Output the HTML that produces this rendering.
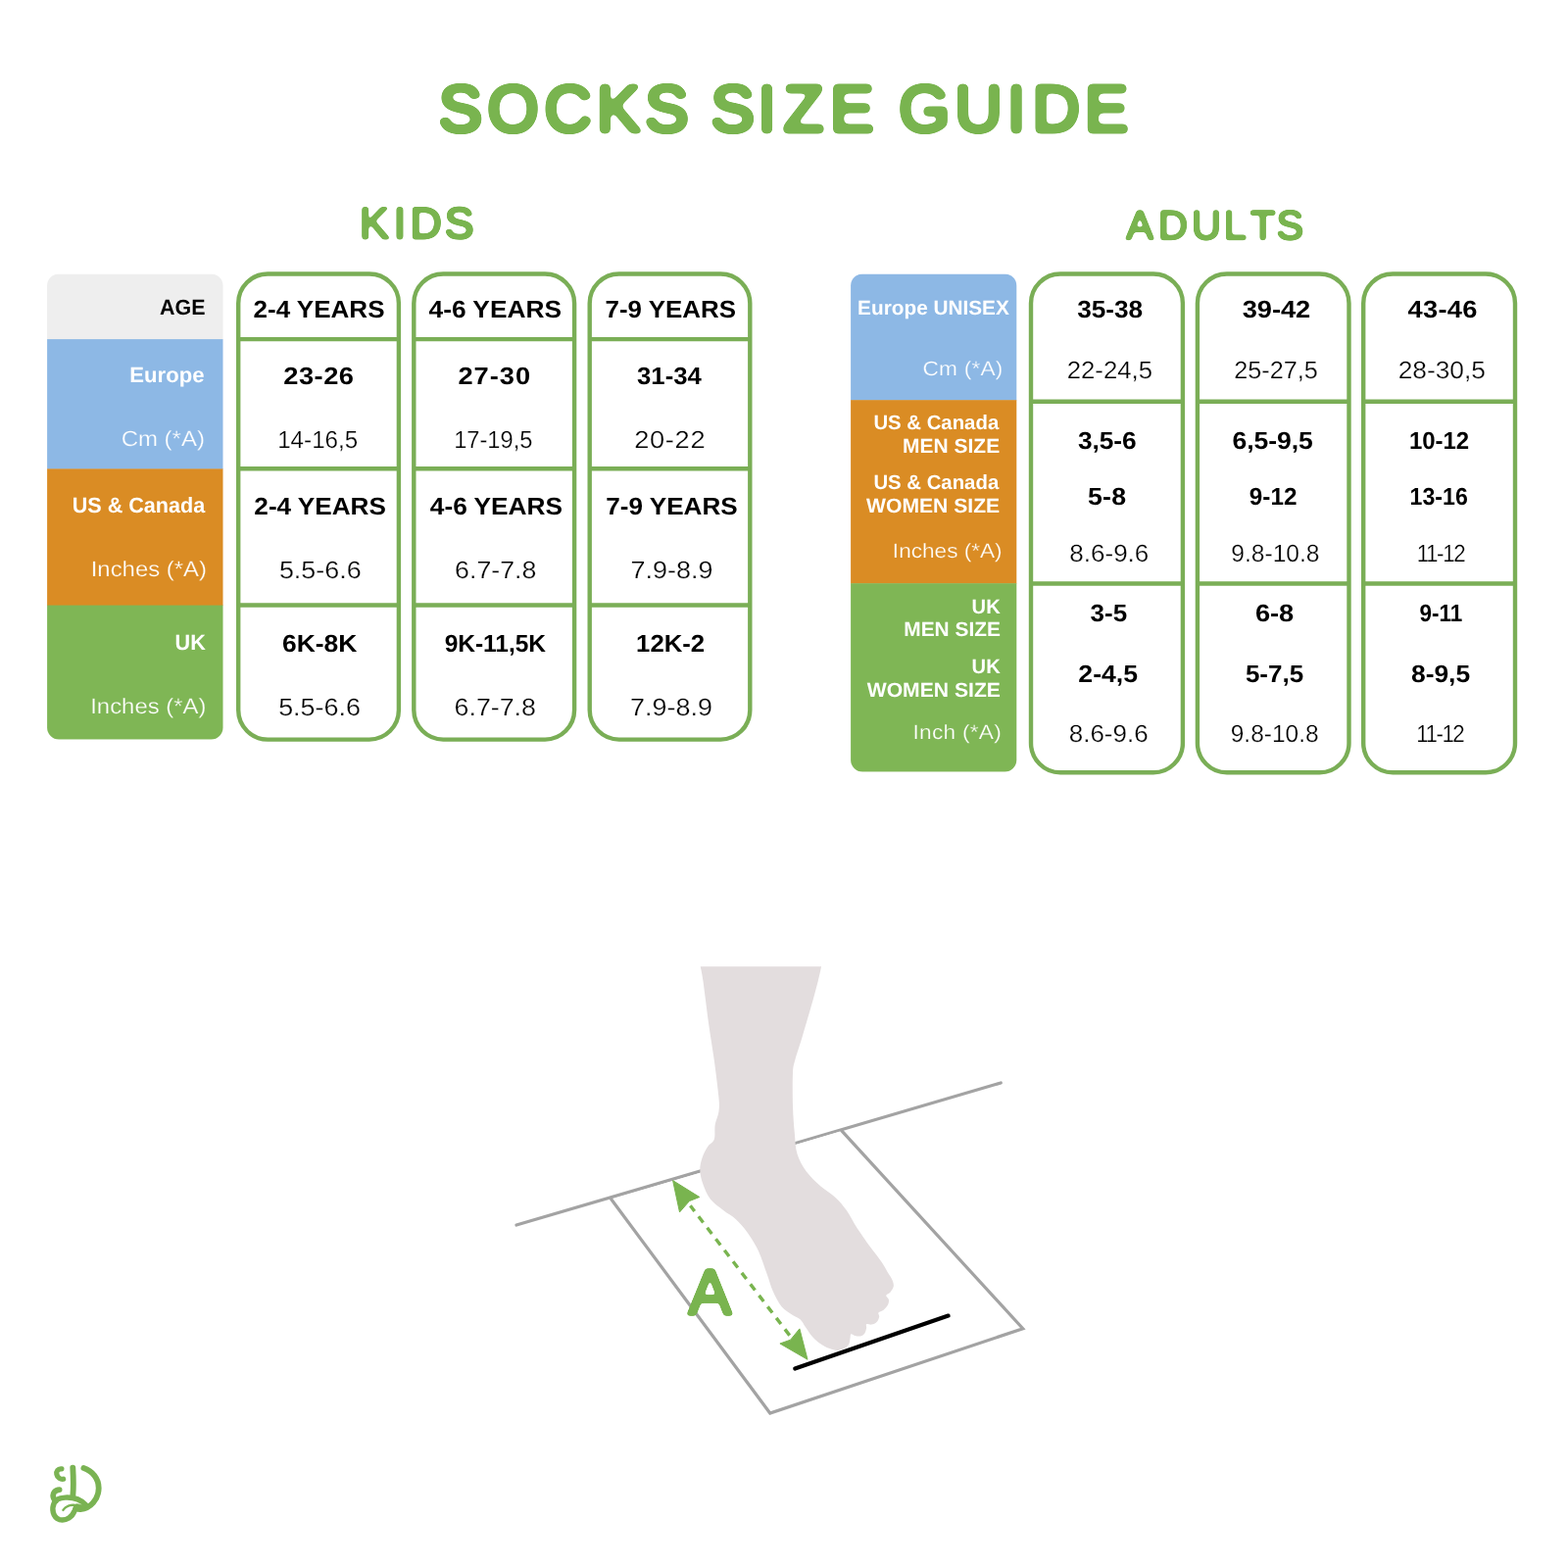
<!DOCTYPE html>
<html lang="en">
<head>
<meta charset="utf-8">
<title>Socks Size Guide</title>
<style>
html,body{margin:0;padding:0;background:#fff;}
#page{position:relative;width:1600px;height:1600px;overflow:hidden;background:#fff;font-family:"Liberation Sans",sans-serif;}
.art{position:absolute;left:0;top:0;will-change:transform;}
text{font-family:"Liberation Sans",sans-serif;text-rendering:geometricPrecision;}
.txt text{fill:#000;}
.txt text.b{font-weight:700;}
.txt text.l{font-weight:400;}
.txt text.w{fill:#fff;}
.txt text.l{stroke-width:0.25px;}
.txt text.ew{stroke:#fff;}
.txt text.eb{stroke:#8DB8E5;}
.txt text.eo{stroke:#DA8C24;}
.txt text.eg{stroke:#7FB655;}
.head text{fill:#79B44F;stroke:#79B44F;stroke-linejoin:round;stroke-linecap:round;font-weight:400;}
.cards{fill:#fff;stroke:#7AAE56;stroke-width:4.4px;}
</style>
</head>
<body>
<div id="page">
<svg id="guide" class="art" width="1600" height="1600" viewBox="0 0 1600 1600" role="img" aria-label="Socks size guide">
<defs>
<filter id="rnd1" x="-5%" y="-25%" width="110%" height="150%" color-interpolation-filters="sRGB"><feGaussianBlur in="SourceAlpha" stdDeviation="2.6"/><feComponentTransfer result="a"><feFuncA type="linear" slope="9" intercept="-4"/></feComponentTransfer><feFlood flood-color="#79B44F"/><feComposite operator="in" in2="a"/></filter>
<filter id="rnd2" x="-5%" y="-25%" width="110%" height="150%" color-interpolation-filters="sRGB"><feGaussianBlur in="SourceAlpha" stdDeviation="1.5"/><feComponentTransfer result="a"><feFuncA type="linear" slope="5.4" intercept="-2.2"/></feComponentTransfer><feFlood flood-color="#79B44F"/><feComposite operator="in" in2="a"/></filter>
<filter id="rnd3" x="-25%" y="-25%" width="150%" height="150%" color-interpolation-filters="sRGB"><feGaussianBlur in="SourceAlpha" stdDeviation="1.6"/><feComponentTransfer result="a"><feFuncA type="linear" slope="6" intercept="-2.5"/></feComponentTransfer><feFlood flood-color="#79B44F"/><feComposite operator="in" in2="a"/></filter>
</defs>

<!-- main title -->
<g id="title" class="head" filter="url(#rnd1)"><text id="h-title" transform="translate(0,134) scale(1.0,1)" x="447.5 497.6 555.4 608.7 658.1 711.6 725.2 773.2 799.5 847.0 898.3 917.2 974.3 1027.8 1053.5 1106.8" y="0" font-size="66.9" stroke-width="5">SOCKS SIZE GUIDE</text></g>

<!-- KIDS table -->
<g id="kids-table">
<g class="head" filter="url(#rnd2)"><text id="h-kids" transform="translate(0,243) scale(1.0,1)" x="367.1 401.7 418.6 453.8" y="0" font-size="44.6" stroke-width="2.8">KIDS</text></g>
<g class="labels"><clipPath id="clip-kids"><rect x="48.1" y="279.5" width="179.4" height="475.0" rx="12" ry="12"/></clipPath><g clip-path="url(#clip-kids)"><rect x="47.1" y="279.5" width="181.4" height="67.0" fill="#EEEEEE"/><rect x="47.1" y="346.1" width="181.4" height="132.7" fill="#8DB8E5"/><rect x="47.1" y="478.4" width="181.4" height="139.6" fill="#DA8C24"/><rect x="47.1" y="617.6" width="181.4" height="137.3" fill="#7FB655"/></g></g>
<g class="cards">
<rect x="243.2" y="279.5" width="163.7" height="475.1" rx="30.0" ry="30.0"/><path d="M243.2,346.1 H406.9"/><path d="M243.2,478.2 H406.9"/><path d="M243.2,617.5 H406.9"/>
<rect x="422.3" y="279.5" width="163.8" height="475.1" rx="30.0" ry="30.0"/><path d="M422.3,346.1 H586.1"/><path d="M422.3,478.2 H586.1"/><path d="M422.3,617.5 H586.1"/>
<rect x="601.7" y="279.5" width="163.6" height="475.1" rx="30.0" ry="30.0"/><path d="M601.7,346.1 H765.3"/><path d="M601.7,478.2 H765.3"/><path d="M601.7,617.5 H765.3"/>
</g>
<g class="txt">
<text class="b" transform="translate(163.02,321) scale(0.9735,1)" font-size="22.0" letter-spacing="0.07">AGE</text>
<text class="b w" transform="translate(132.23,390) scale(1.0042,1)" font-size="22.0" letter-spacing="0.03">Europe</text>
<text class="l w eb" transform="translate(123.70,455) scale(1.0884,1)" font-size="22.0" letter-spacing="0.01">Cm (*A)</text>
<text class="b w" transform="translate(73.74,523) scale(0.9816,1)" font-size="22.0" letter-spacing="-0.01">US &amp; Canada</text>
<text class="l w eo" transform="translate(92.73,588) scale(1.0851,1)" font-size="22.0" letter-spacing="0.01">Inches (*A)</text>
<text class="b w" transform="translate(178.52,663) scale(0.9837,1)" font-size="22.0" letter-spacing="0.01">UK</text>
<text class="l w eg" transform="translate(92.23,728) scale(1.0851,1)" font-size="22.0" letter-spacing="0.01">Inches (*A)</text>
<text class="b" transform="translate(258.49,324) scale(1.0486,1)" font-size="24.8" letter-spacing="0.01">2-4 YEARS</text>
<text class="b" transform="translate(289.35,392) scale(1.1000,1)" font-size="24.8" letter-spacing="0.41">23-26</text>
<text class="l ew" transform="translate(283.16,457) scale(0.9745,1)" font-size="24.8" letter-spacing="0.02">14-16,5</text>
<text class="b" transform="translate(259.36,525) scale(1.0544,1)" font-size="24.8" letter-spacing="-0.02">2-4 YEARS</text>
<text class="l ew" transform="translate(284.88,590) scale(1.0841,1)" font-size="24.8" letter-spacing="0.02">5.5-6.6</text>
<text class="b" transform="translate(287.96,665) scale(1.0661,1)" font-size="24.8" letter-spacing="-0.02">6K-8K</text>
<text class="l ew" transform="translate(284.13,730) scale(1.0841,1)" font-size="24.8" letter-spacing="0.02">5.5-6.6</text>
<text class="b" transform="translate(437.51,324) scale(1.0605,1)" font-size="24.8">4-6 YEARS</text>
<text class="b" transform="translate(467.39,392) scale(1.1000,1)" font-size="24.8" letter-spacing="0.90">27-30</text>
<text class="l ew" transform="translate(463.24,457) scale(0.9523,1)" font-size="24.8">17-19,5</text>
<text class="b" transform="translate(438.83,525) scale(1.0597,1)" font-size="24.8" letter-spacing="-0.03">4-6 YEARS</text>
<text class="l ew" transform="translate(464.10,590) scale(1.0767,1)" font-size="24.8" letter-spacing="0.01">6.7-7.8</text>
<text class="b" transform="translate(453.65,665) scale(0.9889,1)" font-size="24.8" letter-spacing="-0.03">9K-11,5K</text>
<text class="l ew" transform="translate(463.60,730) scale(1.0767,1)" font-size="24.8" letter-spacing="0.01">6.7-7.8</text>
<text class="b" transform="translate(617.60,324) scale(1.0453,1)" font-size="24.8" letter-spacing="-0.02">7-9 YEARS</text>
<text class="b" transform="translate(650.02,392) scale(1.0373,1)" font-size="24.8" letter-spacing="0.01">31-34</text>
<text class="l ew" transform="translate(647.20,457) scale(1.1000,1)" font-size="24.8" letter-spacing="0.60">20-22</text>
<text class="b" transform="translate(618.30,525) scale(1.0525,1)" font-size="24.8">7-9 YEARS</text>
<text class="l ew" transform="translate(643.56,590) scale(1.0853,1)" font-size="24.8" letter-spacing="0.02">7.9-8.9</text>
<text class="b" transform="translate(649.09,665) scale(1.0383,1)" font-size="24.8" letter-spacing="-0.03">12K-2</text>
<text class="l ew" transform="translate(643.06,730) scale(1.0853,1)" font-size="24.8" letter-spacing="0.02">7.9-8.9</text>
</g>
</g>

<!-- ADULTS table -->
<g id="adults-table">
<g class="head" filter="url(#rnd2)"><text id="h-adults" transform="translate(0,244) scale(1.0,1)" x="1149.2 1181.9 1215.9 1248.8 1275.9 1302.4" y="0" font-size="41.4" stroke-width="2.5">ADULTS</text></g>
<g class="labels"><clipPath id="clip-adults"><rect x="868.1" y="279.5" width="169.2" height="508.0" rx="12" ry="12"/></clipPath><g clip-path="url(#clip-adults)"><rect x="867.1" y="279.5" width="171.2" height="129.1" fill="#8DB8E5"/><rect x="867.1" y="408.2" width="171.2" height="187.4" fill="#DA8C24"/><rect x="867.1" y="595.2" width="171.2" height="192.7" fill="#7FB655"/></g></g>
<g class="cards">
<rect x="1052.0" y="279.5" width="154.9" height="508.8" rx="30.0" ry="30.0"/><path d="M1052.0,409.7 H1207.0"/><path d="M1052.0,595.5 H1207.0"/>
<rect x="1221.9" y="279.5" width="154.6" height="508.8" rx="30.0" ry="30.0"/><path d="M1221.9,409.7 H1376.5"/><path d="M1221.9,595.5 H1376.5"/>
<rect x="1391.2" y="279.5" width="154.8" height="508.8" rx="30.0" ry="30.0"/><path d="M1391.2,409.7 H1546.0"/><path d="M1391.2,595.5 H1546.0"/>
</g>
<g class="txt">
<text class="b w" transform="translate(875.11,321) scale(1.0091,1)" font-size="20.6">Europe UNISEX</text>
<text class="l w eb" transform="translate(941.48,383) scale(1.1000,1)" font-size="20.6" letter-spacing="0.19">Cm (*A)</text>
<text class="b w" transform="translate(891.38,438) scale(0.9876,1)" font-size="20.6" letter-spacing="0.01">US &amp; Canada</text>
<text class="b w" transform="translate(921.08,462) scale(1.0175,1)" font-size="20.6" letter-spacing="0.01">MEN SIZE</text>
<text class="b w" transform="translate(891.38,499) scale(0.9876,1)" font-size="20.6" letter-spacing="0.01">US &amp; Canada</text>
<text class="b w" transform="translate(884.07,523) scale(1.0251,1)" font-size="20.6">WOMEN SIZE</text>
<text class="l w eo" transform="translate(910.86,569) scale(1.0971,1)" font-size="20.6">Inches (*A)</text>
<text class="b w" transform="translate(991.49,626) scale(0.9780,1)" font-size="20.6" letter-spacing="0.31">UK</text>
<text class="b w" transform="translate(922.22,649) scale(1.0140,1)" font-size="20.6" letter-spacing="0.01">MEN SIZE</text>
<text class="b w" transform="translate(991.49,687) scale(0.9780,1)" font-size="20.6" letter-spacing="0.31">UK</text>
<text class="b w" transform="translate(884.68,711) scale(1.0259,1)" font-size="20.6" letter-spacing="0.01">WOMEN SIZE</text>
<text class="l w eg" transform="translate(931.52,754) scale(1.1000,1)" font-size="20.6" letter-spacing="0.24">Inch (*A)</text>
<text class="b" transform="translate(1099.29,324) scale(1.0581,1)" font-size="24.8" letter-spacing="-0.05">35-38</text>
<text class="l ew" transform="translate(1088.66,386) scale(1.0377,1)" font-size="24.8" letter-spacing="0.01">22-24,5</text>
<text class="b" transform="translate(1099.90,458) scale(1.0606,1)" font-size="24.8" letter-spacing="-0.06">3,5-6</text>
<text class="b" transform="translate(1110.09,515) scale(1.0764,1)" font-size="24.8" letter-spacing="0.17">5-8</text>
<text class="l ew" transform="translate(1091.34,573) scale(1.0495,1)" font-size="24.8" letter-spacing="-0.01">8.6-9.6</text>
<text class="b" transform="translate(1112.43,634) scale(1.0500,1)" font-size="24.8" letter-spacing="0.03">3-5</text>
<text class="b" transform="translate(1100.36,696) scale(1.0731,1)" font-size="24.8" letter-spacing="0.01">2-4,5</text>
<text class="l ew" transform="translate(1090.73,757) scale(1.0463,1)" font-size="24.8" letter-spacing="0.01">8.6-9.6</text>
<text class="b" transform="translate(1267.66,324) scale(1.0995,1)" font-size="24.8" letter-spacing="-0.05">39-42</text>
<text class="l ew" transform="translate(1259.21,386) scale(1.0168,1)" font-size="24.8" letter-spacing="0.02">25-27,5</text>
<text class="b" transform="translate(1257.42,458) scale(1.0702,1)" font-size="24.8" letter-spacing="-0.03">6,5-9,5</text>
<text class="b" transform="translate(1274.68,515) scale(0.9798,1)" font-size="24.8" letter-spacing="0.08">9-12</text>
<text class="l ew" transform="translate(1256.27,573) scale(0.9910,1)" font-size="24.8" letter-spacing="0.01">9.8-10.8</text>
<text class="b" transform="translate(1280.88,634) scale(1.0982,1)" font-size="24.8" letter-spacing="0.01">6-8</text>
<text class="b" transform="translate(1270.92,696) scale(1.0476,1)" font-size="24.8">5-7,5</text>
<text class="l ew" transform="translate(1255.73,757) scale(0.9867,1)" font-size="24.8" letter-spacing="0.01">9.8-10.8</text>
<text class="b" transform="translate(1436.55,324) scale(1.1000,1)" font-size="24.8" letter-spacing="0.23">43-46</text>
<text class="l ew" transform="translate(1426.63,386) scale(1.0619,1)" font-size="24.8">28-30,5</text>
<text class="b" transform="translate(1437.98,458) scale(0.9669,1)" font-size="24.8" letter-spacing="-0.04">10-12</text>
<text class="b" transform="translate(1438.57,515) scale(0.9331,1)" font-size="24.8" letter-spacing="0.01">13-16</text>
<text class="l ew" transform="translate(1445.74,573) scale(0.9000,1)" font-size="24.8" letter-spacing="-1.55">11-12</text>
<text class="b" transform="translate(1448.49,634) scale(0.9070,1)" font-size="24.8" letter-spacing="0.01">9-11</text>
<text class="b" transform="translate(1439.96,696) scale(1.0666,1)" font-size="24.8" letter-spacing="-0.02">8-9,5</text>
<text class="l ew" transform="translate(1445.21,757) scale(0.9000,1)" font-size="24.8" letter-spacing="-1.63">11-12</text>
</g>
</g>

<!-- how to measure: foot on paper against the wall -->
<g id="measure">
<g fill="none" stroke="#A3A3A3" stroke-width="3.2" stroke-linecap="round" stroke-linejoin="miter">
<path d="M527,1250 L1021.25,1105"/>
<path d="M623.75,1223.75 L785.75,1442 L1043.75,1355.75 L858.9,1153.9" fill="#fff"/>
</g>
<path d="M811.25,1396.6 L967.6,1342.6" stroke="#000" stroke-width="4.2" stroke-linecap="round"/>
<path id="foot" d="M838.1,986.2C837.5,988.8 836.4,994.7 834.7,1001.2C833.0,1007.8 830.8,1016.2 828.1,1025.6C825.4,1035.0 821.6,1048.1 818.8,1057.5C815.9,1066.9 812.9,1075.7 811.2,1081.9C809.6,1088.2 809.4,1087.2 809.0,1095.0C808.6,1102.8 808.7,1118.4 809.0,1128.8C809.3,1139.1 810.1,1148.8 810.9,1156.9C811.6,1165.0 811.6,1171.2 813.5,1177.5C815.4,1183.8 818.5,1189.5 822.5,1195.0C826.5,1200.5 832.5,1206.1 837.5,1210.6C842.5,1215.1 848.1,1217.8 852.5,1221.9C856.9,1226.0 860.0,1229.7 863.8,1235.0C867.5,1240.3 870.9,1247.5 875.0,1253.8C879.1,1260.0 884.0,1266.9 888.1,1272.5C892.2,1278.1 896.3,1282.9 899.4,1287.5C902.5,1292.1 905.4,1297.5 906.9,1300.0C908.4,1302.5 907.9,1301.3 908.6,1302.6C909.3,1303.9 910.7,1306.2 911.2,1307.9C911.7,1309.7 912.1,1311.3 911.7,1313.1C911.3,1314.8 909.9,1316.9 908.6,1318.4C907.4,1319.9 904.5,1320.6 904.2,1321.9C903.9,1323.2 906.6,1324.6 906.9,1326.2C907.2,1327.8 906.9,1329.8 906.0,1331.5C905.1,1333.2 903.2,1335.4 901.6,1336.7C900.0,1338.0 897.1,1338.2 896.4,1339.4C895.7,1340.6 897.5,1342.1 897.2,1343.7C896.9,1345.3 895.9,1347.7 894.6,1349.0C893.3,1350.3 891.1,1351.2 889.4,1351.6C887.6,1352.0 885.0,1350.6 884.1,1351.2C883.2,1351.8 884.4,1353.6 884.1,1355.1C883.8,1356.6 883.4,1359.0 882.4,1360.4C881.4,1361.8 879.6,1363.0 878.0,1363.4C876.4,1363.8 874.3,1363.4 872.7,1363.0C871.1,1362.6 869.3,1360.8 868.4,1361.2C867.5,1361.6 867.9,1363.8 867.5,1365.6C867.1,1367.3 867.2,1370.0 866.2,1371.7C865.2,1373.5 863.4,1375.1 861.4,1376.1C859.4,1377.1 856.9,1377.9 854.4,1377.9C851.9,1377.9 849.4,1377.3 846.5,1376.1C843.6,1374.9 839.8,1372.9 836.9,1370.9C834.0,1368.9 831.5,1366.7 829.0,1363.9C826.5,1361.1 824.0,1357.1 822.0,1354.2C820.0,1351.3 818.9,1348.4 816.7,1346.4C814.5,1344.4 812.1,1344.2 808.9,1342.0C805.7,1339.8 800.9,1337.3 797.5,1333.2C794.1,1329.1 791.2,1323.0 788.7,1317.5C786.2,1312.0 785.1,1306.9 782.6,1300.0C780.1,1293.1 777.1,1283.3 773.8,1276.2C770.4,1269.2 766.2,1262.8 762.5,1257.5C758.8,1252.2 755.3,1248.2 751.2,1244.4C747.2,1240.7 742.5,1238.4 738.1,1235.0C733.7,1231.6 728.4,1228.1 725.0,1223.8C721.6,1219.4 719.3,1213.7 717.5,1208.8C715.7,1203.8 714.4,1198.6 714.3,1194.0C714.1,1189.4 715.3,1185.2 716.6,1181.2C717.9,1177.2 720.2,1173.1 722.2,1170.0C724.2,1166.9 727.5,1166.2 728.8,1162.5C730.0,1158.8 728.9,1152.2 729.7,1147.5C730.5,1142.8 732.8,1139.1 733.4,1134.4C734.0,1129.7 734.2,1128.2 733.4,1119.4C732.6,1110.7 730.5,1094.4 728.8,1081.9C727.0,1069.4 725.0,1057.8 723.1,1044.4C721.2,1031.0 718.9,1010.9 717.5,1001.2C716.1,991.6 715.2,988.8 714.7,986.2Z" fill="#E3DDDE"/>
<g fill="#79B44F" stroke="#79B44F">
<path d="M805.7,1362.6 L704.4,1230.3" fill="none" stroke-width="3.4" stroke-dasharray="7.8 6.7" stroke-linecap="butt"/>
<path d="M686.6,1204.6 L713.75,1221.5 L703.4,1225.6 L693.5,1236.9 Z" stroke-width="1" stroke-linejoin="round"/>
<path d="M824,1387.25 L815.9,1355.9 L806.6,1367.2 L795.9,1371 Z" stroke-width="1" stroke-linejoin="round"/>
</g>
<g class="head" filter="url(#rnd3)"><text id="h-A" transform="translate(0,1341) scale(1.0,1)" x="702.4" y="0" font-size="65.5" stroke-width="3.6">A</text></g>
</g>

<!-- brand mark -->
<g id="logo" transform="translate(20,1470) scale(0.075)" fill="none" stroke="#7AB353" stroke-linecap="round" stroke-linejoin="round">
<path d="M572,385 C520,378 497,420 505,458 C515,508 560,530 595,523" stroke-width="70"/>
<path d="M724,368 C732,500 736,650 722,775" stroke-width="78"/>
<path d="M872,374 C990,412 1078,520 1076,650 C1073,800 960,928 830,933 C800,934 780,930 760,925" stroke-width="78"/>
<path d="M542,668 C480,670 447,720 458,770 C465,800 480,815 495,820" stroke-width="76"/>
<path d="M900,875 C830,800 720,770 620,775 C540,780 480,810 470,850 C432,930 452,1040 540,1074 C640,1098 720,1030 745,960" stroke-width="72"/>
<path d="M592,945 C622,900 690,862 785,884" stroke-width="32"/>
<path d="M775,862 L905,880 L880,945 L770,935 Z" fill="#7AB353" stroke-width="10"/>
</g>
</svg>
</div>
</body>
</html>
